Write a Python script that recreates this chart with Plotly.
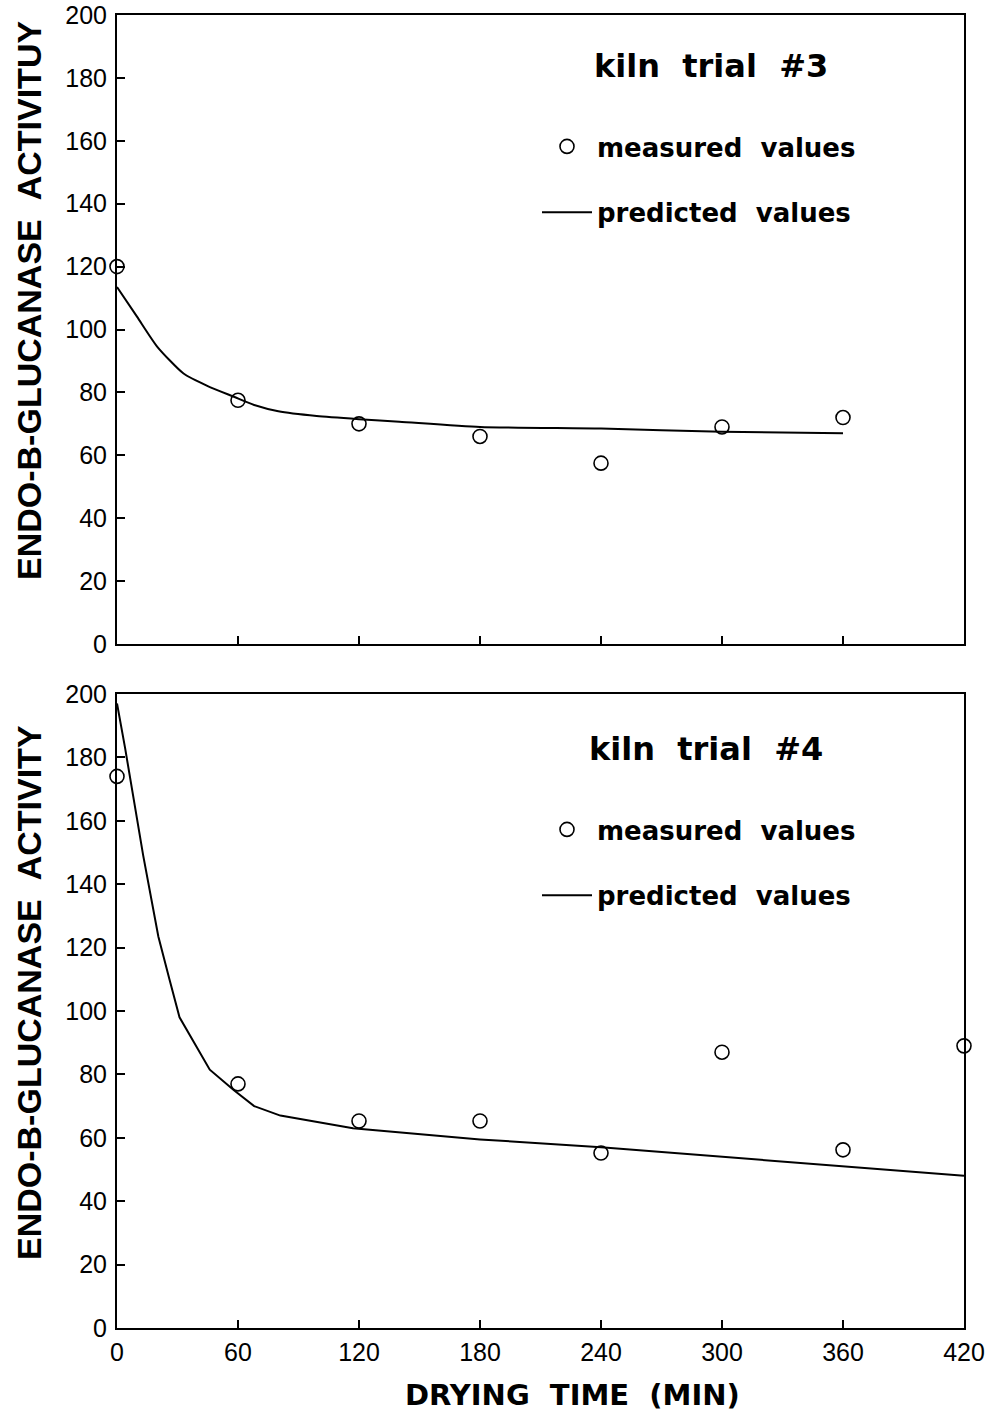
import plotly.graph_objects as go

W, H = 989, 1412

# ---- data ----
time_ticks = [0, 60, 120, 180, 240, 300, 360, 420]
y_ticks = [0, 20, 40, 60, 80, 100, 120, 140, 160, 180, 200]

t3_meas_x = [0, 60, 120, 180, 240, 300, 360]
t3_meas_y = [120, 77.5, 70, 66, 57.5, 69, 72]
t3_pred_x = [0, 10, 20, 33, 45, 58, 68, 80, 99, 120, 140, 180, 240, 300, 360]
t3_pred_y = [113.5, 104, 94.5, 86, 82, 78.6, 76, 74, 72.5, 71.5, 70.7, 69, 68.5, 67.5, 67]

t4_meas_x = [0, 60, 120, 180, 240, 300, 360, 420]
t4_meas_y = [174, 77, 65.3, 65.3, 55.2, 87, 56.2, 89]
t4_pred_x = [0, 4, 13, 20.5, 26, 31, 46, 58, 68, 81, 117, 180, 240, 300, 360, 420]
t4_pred_y = [197, 183, 149, 123.5, 110, 98, 81.5, 75, 70, 67, 63, 59.5, 57, 54, 51, 48]

BOLD = "DejaVu Sans"
TICKF = "Liberation Sans, Arial, sans-serif"
SP = "\u00a0\u00a0"

def px_x(p):
    return p / W

def px_y(p):
    return 1 - p / H

fig = go.Figure()

mk = dict(symbol="circle-open", size=14, color="black", line=dict(width=1.6, color="black"))

fig.add_trace(go.Scatter(x=t3_meas_x, y=t3_meas_y, mode="markers", marker=mk,
                         name="measured" + SP + "values", legendgroup="m3",
                         xaxis="x", yaxis="y", cliponaxis=False, legend="legend"))
fig.add_trace(go.Scatter(x=t3_pred_x, y=t3_pred_y, mode="lines",
                         line=dict(color="black", width=2, shape="spline", smoothing=0.6),
                         name="predicted" + SP + "values", legendgroup="p3",
                         xaxis="x", yaxis="y", legend="legend"))
fig.add_trace(go.Scatter(x=t4_meas_x, y=t4_meas_y, mode="markers", marker=mk,
                         name="measured" + SP + "values", legendgroup="m4",
                         xaxis="x2", yaxis="y2", cliponaxis=False, legend="legend2"))
fig.add_trace(go.Scatter(x=t4_pred_x, y=t4_pred_y, mode="lines",
                         line=dict(color="black", width=2),
                         name="predicted" + SP + "values", legendgroup="p4",
                         xaxis="x2", yaxis="y2", legend="legend2"))

xdom = [px_x(117), px_x(964)]
axis_common = dict(showline=True, linecolor="black", linewidth=2, mirror=True,
                   ticks="inside", ticklen=8, tickwidth=2, tickcolor="black",
                   showgrid=False, zeroline=False, automargin=False,
                   tickfont=dict(family=TICKF, size=25, color="black"))

leg_common = dict(xanchor="left", yanchor="top", itemwidth=50,
                  font=dict(family=BOLD, size=26, color="black", weight="bold"),
                  tracegroupgap=29, bgcolor="rgba(0,0,0,0)", borderwidth=0)

fig.update_layout(
    width=W, height=H,
    margin=dict(l=0, r=0, t=0, b=0, autoexpand=False),
    paper_bgcolor="white", plot_bgcolor="white",
    xaxis=dict(domain=xdom, range=[0, 420], tickvals=time_ticks, showticklabels=False,
               anchor="y", **axis_common),
    yaxis=dict(domain=[px_y(644), px_y(15)], range=[0, 200], tickvals=y_ticks,
               anchor="x", ticklabelstandoff=3, **axis_common),
    xaxis2=dict(domain=xdom, range=[0, 420], tickvals=time_ticks, anchor="y2",
                ticklabelstandoff=1, **axis_common),
    yaxis2=dict(domain=[px_y(1328), px_y(694)], range=[0, 200], tickvals=y_ticks,
                anchor="x2", ticklabelstandoff=3, **axis_common),
    legend=dict(x=px_x(537), y=px_y(123), **leg_common),
    legend2=dict(x=px_x(537), y=px_y(806), **leg_common),
    showlegend=True,
)

annots = [
    dict(text="kiln" + SP + "trial" + SP + "#3", x=px_x(592), y=px_y(66), xanchor="left",
         yanchor="middle", font=dict(family=BOLD, size=32, color="black", weight="bold")),
    dict(text="kiln" + SP + "trial" + SP + "#4", x=px_x(587), y=px_y(749), xanchor="left",
         yanchor="middle", font=dict(family=BOLD, size=32, color="black", weight="bold")),
    dict(text="ENDO-B-GLUCANASE" + SP + "ACTIVITUY", x=px_x(29), y=px_y(301), textangle=-90,
         xanchor="center", yanchor="middle",
         font=dict(family="Liberation Sans, Arial, sans-serif", size=34, color="black", weight="bold")),
    dict(text="ENDO-B-GLUCANASE" + SP + "ACTIVITY", x=px_x(29), y=px_y(993), textangle=-90,
         xanchor="center", yanchor="middle",
         font=dict(family="Liberation Sans, Arial, sans-serif", size=34, color="black", weight="bold")),
    dict(text="DRYING" + SP + "TIME" + SP + "(MIN)", x=px_x(572), y=px_y(1395),
         xanchor="center", yanchor="middle",
         font=dict(family=BOLD, size=29, color="black", weight="bold")),
]
for a in annots:
    a.update(xref="paper", yref="paper", showarrow=False)
fig.update_layout(annotations=annots)

fig.write_html("out.html")
